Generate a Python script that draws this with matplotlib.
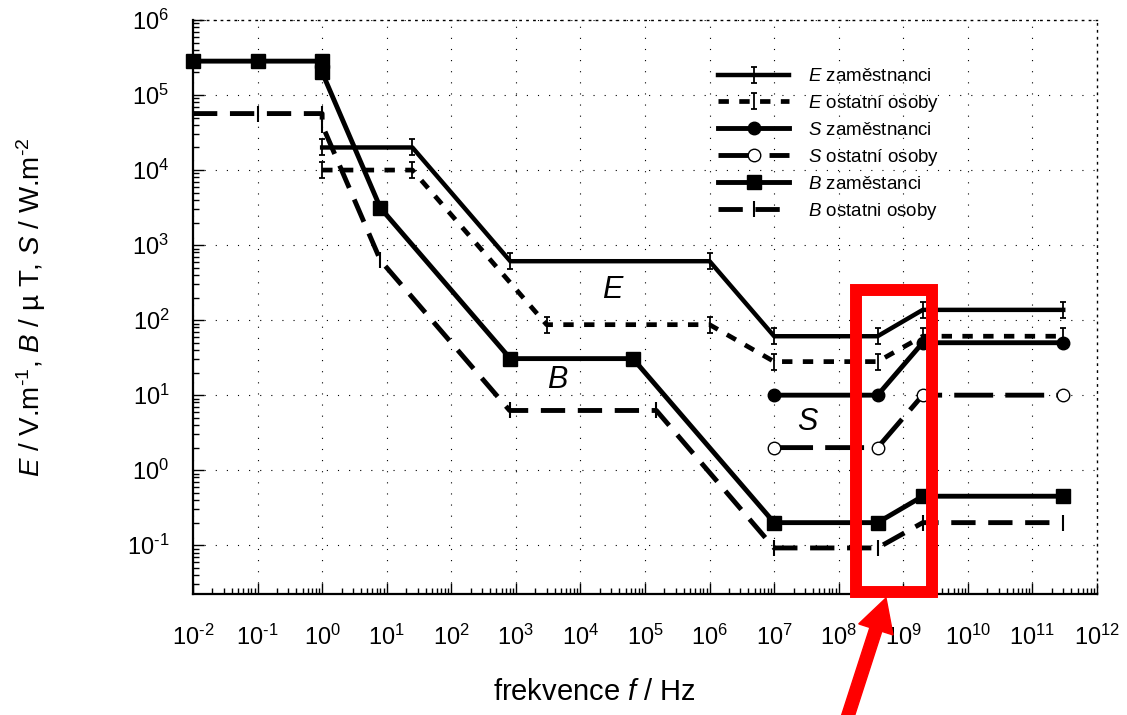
import math
import matplotlib
matplotlib.use('Agg')
import matplotlib.pyplot as plt
import matplotlib.patches as mpatches
from matplotlib.path import Path
from matplotlib.ticker import LogLocator, FuncFormatter, NullFormatter

plt.rcParams.update({
    'font.family': ['Liberation Sans', 'DejaVu Sans'],
    'mathtext.fontset': 'custom',
    'mathtext.rm': 'Liberation Sans',
    'mathtext.it': 'Liberation Sans:italic',
    'mathtext.bf': 'Liberation Sans:bold',
    'axes.unicode_minus': False,
})

HY = '\u2010'

# ---------------- data ----------------
f_E_zam = [1, 25, 820, 1e6, 1e7, 4e8, 2e9, 3e11]
E_zam = [2e4, 2e4, 610, 610, 61, 61, 137, 137]

f_E_ost = [1, 25, 3e3, 1e6, 1e7, 4e8, 2e9, 3e11]
E_ost = [1e4, 1e4, 87, 87, 28, 28, 61, 61]

f_S = [1e7, 4e8, 2e9, 3e11]
S_zam = [10, 10, 50, 50]
S_ost = [2, 2, 10, 10]

f_B_zam = [0.01, 0.1, 1, 1, 8, 820, 6.5e4, 1e7, 4e8, 2e9, 3e11]
B_zam = [2.83e5, 2.83e5, 2.83e5, 2e5, 3125, 30.7, 30.7, 0.2, 0.2, 0.45, 0.45]

f_B_ost = [0.01, 0.1, 1, 1, 8, 800, 1.5e5, 1e7, 4e8, 2e9, 3e11]
B_ost = [5.66e4, 5.66e4, 5.66e4, 4e4, 625, 6.25, 6.25, 0.092, 0.092, 0.2, 0.2]

labels = [r'$E$ zaměstnanci', r'$E$ ostatní osoby', r'$S$ zaměstnanci',
          r'$S$ ostatní osoby', r'$B$ zaměstanci', r'$B$ ostatni osoby']

# ---------------- figure ----------------
W, H = 1127, 715
fig = plt.figure(figsize=(W / 100, H / 100), dpi=100)
ax = fig.add_axes([193 / W, 121 / H, 904 / W, 574 / H])

ibeam = Path([(-0.35, -1), (0.35, -1), (0, -1), (0, 1), (-0.35, 1), (0.35, 1)],
             [Path.MOVETO, Path.LINETO, Path.MOVETO, Path.LINETO, Path.MOVETO, Path.LINETO])

ax.plot(f_E_zam, E_zam, color='k', lw=3.2, marker=ibeam, ms=11, mew=1.3,
        mfc='none', label=labels[0])
ax.plot(f_E_ost, E_ost, color='k', lw=3.4, dashes=(2.2, 2.2), marker=ibeam, ms=11,
        mew=1.3, mfc='none', label=labels[1])
ax.plot(f_S, S_zam, color='k', lw=3.5, marker='o', ms=9, label=labels[2])
ax.plot(f_S, S_ost, color='k', lw=3.5, dashes=(8, 2.5), marker='o', ms=9,
        mfc='white', mew=1.0, label=labels[3])
ax.plot(f_B_zam, B_zam, color='k', lw=3.5, marker='s', ms=10, clip_on=False,
        label=labels[4])
ax.plot(f_B_ost, B_ost, color='k', lw=3.5, dashes=(5, 2.6), marker='|', ms=12,
        mew=1.5, clip_on=False, label=labels[5])

ax.set_xscale('log')
ax.set_yscale('log')
ax.set_xlim(1e-2, 1e12)
ax.set_ylim(10 ** -1.65, 1e6)


def pow_fmt(v, pos):
    e = int(round(math.log10(v)))
    return r'$\mathregular{10^{' + str(e).replace('-', HY) + r'}}$'


ax.xaxis.set_major_locator(LogLocator(base=10, numticks=30))
ax.xaxis.set_minor_locator(LogLocator(base=10, subs=range(2, 10), numticks=200))
ax.yaxis.set_major_locator(LogLocator(base=10, numticks=30))
ax.yaxis.set_minor_locator(LogLocator(base=10, subs=range(2, 10), numticks=200))
ax.xaxis.set_major_formatter(FuncFormatter(pow_fmt))
ax.yaxis.set_major_formatter(FuncFormatter(pow_fmt))
ax.xaxis.set_minor_formatter(NullFormatter())
ax.yaxis.set_minor_formatter(NullFormatter())

ax.tick_params(which='both', direction='in', labelsize=17, color='k', width=1)
ax.tick_params(which='major', length=8)
ax.tick_params(which='minor', length=4)
ax.tick_params(axis='x', pad=22)
ax.tick_params(axis='y', pad=17)

ax.grid(True, which='major', color='k', linestyle=(0, (1, 9)), lw=0.8)

for s in ('left', 'bottom'):
    ax.spines[s].set_linewidth(1.6)
for s in ('top', 'right'):
    ax.spines[s].set_linestyle((0, (1, 4)))
    ax.spines[s].set_linewidth(1.0)

ax.set_xlabel(r'frekvence $f$ / Hz', fontsize=21)
ax.xaxis.set_label_coords(0.4436, -0.146)
ylab = (r'$E$ / V.m$^{' + HY + r'1}$, $B$ / µ T, $S$ / W.m$^{' + HY + r'2}$')
ax.set_ylabel(ylab, fontsize=20)
ax.yaxis.set_label_coords(-0.16, 0.5)

ax.text(0.4635, 0.530, 'E', transform=ax.transAxes, fontsize=22, style='italic',
        ha='center', va='center')
ax.text(0.4027, 0.373, 'B', transform=ax.transAxes, fontsize=22, style='italic',
        ha='center', va='center')
ax.text(0.680, 0.300, 'S', transform=ax.transAxes, fontsize=22, style='italic',
        ha='center', va='center')

leg = ax.legend(loc='upper left', bbox_to_anchor=(7.18, (H - 68) / 100),
                bbox_transform=fig.dpi_scale_trans, frameon=False, borderpad=0,
                borderaxespad=0, handlelength=3.8, handletextpad=1.0,
                labelspacing=0.42, fontsize=13.5, numpoints=1)

# red highlight box and arrow
rect = mpatches.Rectangle((856 / W, (H - 592) / H), (932 - 856) / W, (592 - 290) / H,
                          transform=fig.transFigure, fill=False, edgecolor='#ff0000',
                          lw=8.6, zorder=10)
fig.patches.append(rect)
arrow = mpatches.FancyArrow(8.45, -0.10, 0.41, 1.27, width=0.125, head_width=0.36,
                            head_length=0.33, length_includes_head=True,
                            transform=fig.dpi_scale_trans, color='#ff0000', zorder=10)
fig.patches.append(arrow)

fig.savefig('out.png', dpi=100)
